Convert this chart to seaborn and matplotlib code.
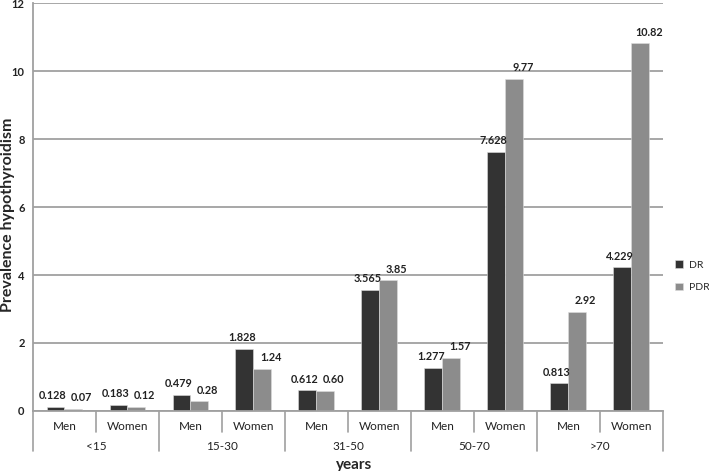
import numpy as np
import pandas as pd
import matplotlib
matplotlib.use("Agg")
import matplotlib.pyplot as plt
import seaborn as sns

# data
age_groups = ["<15", "15-30", "31-50", "50-70", ">70"]
sexes = ["Men", "Women"]
dr_values = [0.128, 0.183, 0.479, 1.828, 0.612, 3.565, 1.277, 7.628, 0.813, 4.229]
pdr_values = [0.07, 0.12, 0.28, 1.24, 0.60, 3.85, 1.57, 9.77, 2.92, 10.82]
dr_labels = ["0.128", "0.183", "0.479", "1.828", "0.612", "3.565", "1.277", "7.628", "0.813", "4.229"]
pdr_labels = ["0.07", "0.12", "0.28", "1.24", "0.60", "3.85", "1.57", "9.77", "2.92", "10.82"]

"""long form table for seaborn"""
cats = [a + " " + s for a in age_groups for s in sexes]
df = pd.DataFrame({
    "cat": cats * 2,
    "value": dr_values + pdr_values,
    "series": ["DR"] * len(cats) + ["PDR"] * len(cats),
})

sns.set_style("white")
plt.rcParams["font.family"] = ["Lato", "DejaVu Sans"]

fig = plt.figure(figsize=(7.09, 4.71), dpi=100)
ax = fig.add_axes([0.0465, 0.1274, 0.8885, 0.8662])

sns.barplot(data=df, x="cat", y="value", hue="series", order=cats,
            palette=["#333333", "#8c8c8c"], width=0.57, saturation=1,
            edgecolor="#dddddd", linewidth=0.4, ax=ax)

"""value labels above the bars (DR nudged left, PDR nudged right like the original)"""
for cont, labs, dx in zip(ax.containers, [dr_labels, pdr_labels], [-2, 6]):
    texts = ax.bar_label(cont, labels=labs, padding=4, fontsize=7.8,
                         fontweight="bold", color="#222222")
    for t in texts:
        t.xyann = (t.xyann[0] + dx, t.xyann[1])

ax.set_xlim(-0.5, len(cats) - 0.5)
ax.set_ylim(0, 12)
ax.set_yticks(np.arange(0, 13, 2))
ax.set_yticklabels([str(v) for v in range(0, 13, 2)], fontsize=8,
                   fontweight="bold", color="#222222")
ax.yaxis.grid(True, color="#a0a0a0", linewidth=1.3)
ax.set_axisbelow(True)
for s in ["top", "right"]:
    ax.spines[s].set_visible(False)
ax.spines["left"].set_color("#a0a0a0")
ax.spines["left"].set_linewidth(1.3)
ax.spines["bottom"].set_color("#a0a0a0")
ax.spines["bottom"].set_linewidth(1.3)
ax.tick_params(axis="y", length=3, color="#a0a0a0", width=1.2, pad=3)

"""two level x axis"""
ax.set_xticks(range(len(cats)))
ax.set_xticklabels(sexes * len(age_groups), fontsize=8.5, color="#222222")
ax.tick_params(axis="x", length=0, pad=7)
tr = ax.get_xaxis_transform()
for i in range(len(cats) + 1):
    depth = -0.098 if i % 2 == 0 else -0.051
    ax.plot([i - 0.5, i - 0.5], [0, depth], transform=tr, clip_on=False,
            color="#a0a0a0", linewidth=1.2)
for j, g in enumerate(age_groups):
    ax.text(2 * j + 0.5, -0.086, g, transform=tr, ha="center", va="center",
            fontsize=8.5, color="#222222")

ax.set_xlabel("years", fontsize=11, fontweight="bold")
ax.xaxis.set_label_coords(0.51, -0.116)
ax.set_ylabel("Prevalence hypothyroidism", fontsize=11.5, fontweight="bold")
ax.yaxis.set_label_coords(-0.028, 0.48)

leg = ax.legend(loc="center left", bbox_to_anchor=(1.005, 0.33), frameon=False,
                fontsize=7.5, handlelength=0.7, handleheight=0.7,
                handletextpad=0.6, labelspacing=1.3, title=None)

fig.savefig("out.png", dpi=100)
